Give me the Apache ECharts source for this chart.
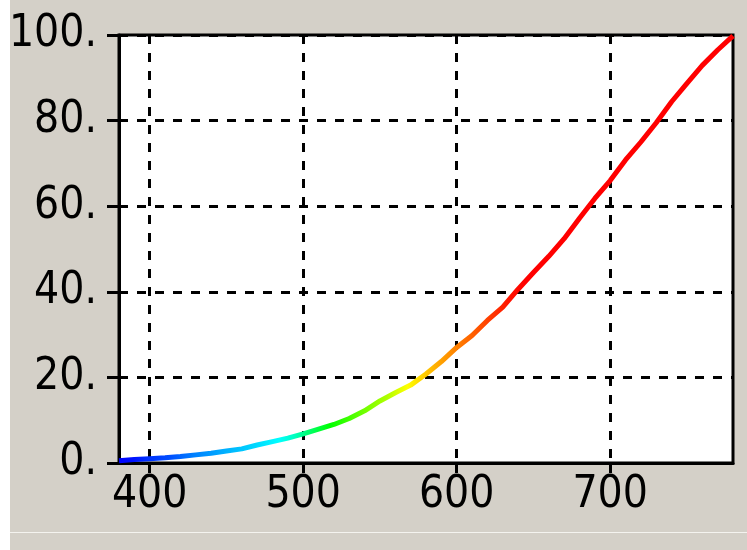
<!DOCTYPE html>
<html>
<head>
<meta charset="utf-8">
<script src="https://cdn.jsdelivr.net/npm/echarts@6/dist/echarts.min.js"></script>
<style>
html,body{margin:0;padding:0;background:#ffffff;}
#chart{width:747px;height:550px;}
</style>
</head>
<body>
<div id="chart"></div>
<script>
var wavelengths = [380,390,400,410,420,430,440,450,460,470,480,490,500,510,520,530,540,550,560,570,580,590,600,610,620,630,640,650,660,670,680,690,700,710,720,730,740,750,760,770,780];
var values = [0.5,0.8,1.0,1.2,1.5,1.9,2.3,2.8,3.3,4.2,5.0,5.8,6.8,7.9,9.0,10.4,12.2,14.5,16.4,18.2,20.8,23.7,27.0,29.8,33.3,36.4,40.6,44.5,48.3,52.4,57.2,61.8,66.0,70.8,75.0,79.5,84.4,88.7,92.9,96.5,99.8];
var xTickValues = [400,500,600,700];
var yTickLabels = ['0.','20.','40.','60.','80.','100.'];

var colorStops = [
  [380,'#0000ff'],[390,'#0010ff'],[400,'#0030ff'],[415,'#0050ff'],[430,'#0080ff'],
  [450,'#00b0ff'],[470,'#00d8ff'],[485,'#00ffff'],[495,'#00ffc0'],[502,'#00ff80'],
  [510,'#00ff40'],[518,'#00ff00'],[530,'#40ff00'],[540,'#70ff00'],[555,'#b0ff00'],
  [568,'#ffff00'],[578,'#ffd000'],[590,'#ffa000'],[605,'#ff7000'],[620,'#ff4000'],
  [635,'#ff1000'],[645,'#ff0000'],[780,'#ff0000']
];

var chart = echarts.init(document.getElementById('chart'));
var xMin = wavelengths[0], xMax = wavelengths[wavelengths.length-1];
var stops = colorStops.map(function(s){ return {offset:(s[0]-xMin)/(xMax-xMin), color:s[1]}; });
var data = wavelengths.map(function(w,i){ return [w, values[i]]; });
var labelFont = "'DejaVu Sans Condensed','Liberation Sans',sans-serif";

chart.setOption({
  animation:false,
  backgroundColor:'#ffffff',
  graphic:[
    {type:'rect', z:-10, silent:true, shape:{x:10,y:0,width:737,height:532}, style:{fill:'#d4d0c8'}},
    {type:'rect', z:-10, silent:true, shape:{x:10,y:532,width:737,height:1}, style:{fill:'#f4f3ef'}},
    {type:'rect', z:-10, silent:true, shape:{x:10,y:533,width:737,height:17}, style:{fill:'#d4d0c8'}}
  ],
  grid:{left:119, right:14, top:35, bottom:87, containLabel:false, outerBoundsMode:'none',
    show:true, backgroundColor:'#ffffff', borderColor:'#000000', borderWidth:3},
  xAxis:{
    type:'value', min:xMin, max:xMax,
    axisLine:{show:true, onZero:false, lineStyle:{color:'#000', width:3}},
    axisTick:{show:true, length:10, customValues:xTickValues, lineStyle:{color:'#000', width:3}},
    axisLabel:{customValues:xTickValues, color:'#000', fontSize:44, fontFamily:labelFont, margin:11},
    splitLine:{show:true, lineStyle:{color:'#000', width:3, type:[9,9]}}
  },
  yAxis:{
    type:'value', min:0, max:100, interval:20,
    axisLine:{show:true, lineStyle:{color:'#000', width:3}},
    axisTick:{show:true, length:12, lineStyle:{color:'#000', width:3}},
    axisLabel:{color:'#000', fontSize:44, fontFamily:labelFont, margin:22,
      formatter:function(v){ return yTickLabels[Math.round(v/20)]; }},
    splitLine:{show:true, lineStyle:{color:'#000', width:3, type:[9,9]}}
  },
  series:[{
    type:'line', data:data, showSymbol:false, smooth:false,
    lineStyle:{width:5, color:new echarts.graphic.LinearGradient(0,0,1,0,stops)}
  }]
});
</script>
</body>
</html>
